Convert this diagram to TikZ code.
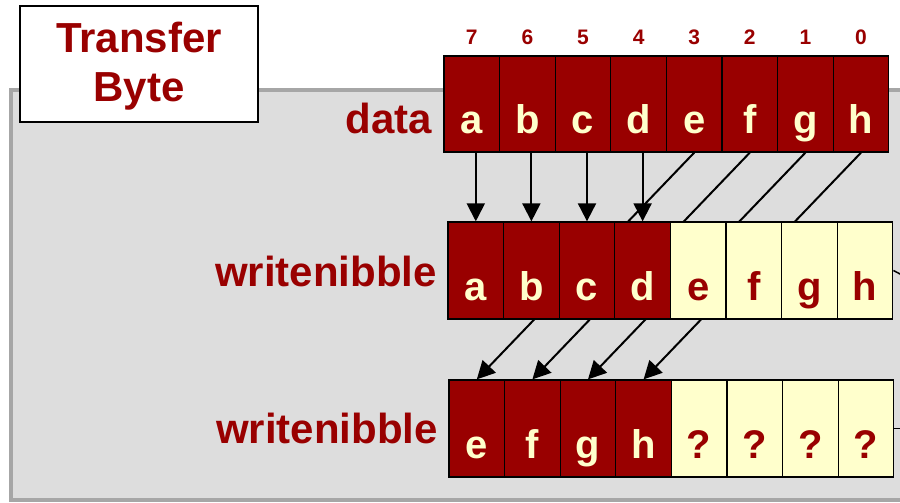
\documentclass[tikz,border=0pt]{standalone}
\usepackage{fontspec}
\setmainfont{Liberation Sans}
\usetikzlibrary{arrows.meta}
\definecolor{dred}{HTML}{990000}
\definecolor{cream}{HTML}{FFFFCC}
\definecolor{panelfill}{HTML}{DDDDDD}
\definecolor{panelline}{HTML}{A6A6A6}
\pgfdeclarelayer{background}
\pgfdeclarelayer{edges}
\pgfsetlayers{background,edges,main}
\begin{document}
\begin{tikzpicture}[x=1pt,y=-1pt,
  cell/.style={draw=black,line width=1.3pt,minimum width=55.6pt,minimum height=96pt,
    inner sep=0pt,text height=77pt,text depth=19pt,font=\bfseries\fontsize{40}{42}\selectfont},
  redcell/.style={cell,fill=dred,text=cream},
  yelcell/.style={cell,fill=cream,text=dred},
  bignum/.style={font=\bfseries\fontsize{21}{24}\selectfont,text=dred,inner sep=0pt},
  lab/.style={font=\bfseries\fontsize{42}{49}\selectfont,text=dred,inner sep=0pt},
  tbox/.style={draw=black,line width=1.3pt,fill=white,minimum width=238pt,minimum height=116pt,inner sep=0pt},
  arr/.style={draw=black,line width=2pt,-{Triangle[width=18pt,length=18pt]}},
  stub/.style={draw=black,line width=1.5pt}]
\useasboundingbox (0,0) rectangle (900,503);
\begin{pgfonlayer}{background}
  \fill[white] (0,0) rectangle (900,503);
  \draw[panelline,line width=4pt,fill=panelfill] (11,90) rectangle (940,500);
\end{pgfonlayer}
% title box
\node[tbox] (tb) at (139,64) {};
\node[lab,anchor=base] (tb1) at (139,53) {Transfer};
\node[lab,anchor=base] (tb2) at (139,102) {Byte};
% row labels
\node[lab,anchor=base east] (ldata) at (432,133) {data};
\node[lab,anchor=base east] (lw1) at (437,286) {writenibble};
\node[lab,anchor=base east] (lw2) at (438,443) {writenibble};
% data row
\foreach \l [count=\i] in {a,b,c,d,e,f,g,h}{
  \node[redcell] (d\i) at ({444+55.6*(\i-0.5)},104) {\l};
}
\foreach \b [count=\i] in {7,6,5,4,3,2,1,0}{
  \node[bignum] (n\i) at ({444+55.6*(\i-0.5)},37) {\b};
}
% first writenibble row
\foreach \l/\s [count=\i] in {a/redcell,b/redcell,c/redcell,d/redcell,e/yelcell,f/yelcell,g/yelcell,h/yelcell}{
  \node[\s,minimum height=97pt,text height=78pt] (w\i) at ({448+55.6*(\i-0.5)},270.5) {\l};
}
% second writenibble row
\foreach \l/\s [count=\i] in {e/redcell,f/redcell,g/redcell,h/redcell,?/yelcell,?/yelcell,?/yelcell,?/yelcell}{
  \node[\s,minimum height=97pt,text height=78pt] (v\i) at ({449+55.6*(\i-0.5)},428.5) {\l};
}
% connectors
\begin{pgfonlayer}{edges}
  \foreach \i in {1,2,3,4}{
    \draw[arr] (w\i.north |- d\i.south) -- (w\i.north);
  }
  \foreach \i in {5,6,7,8}{
    \pgfmathtruncatemacro\j{\i-4}
    \draw[arr] (d\i.south) -- (v\j.north);
  }
\end{pgfonlayer}
\coordinate (s2) at (902,275);
\coordinate (s3) at (902,428.5);
\draw[stub] (w8.east) -- (s2);
\draw[stub] (v8.east) -- (s3);
\end{tikzpicture}
\end{document}
